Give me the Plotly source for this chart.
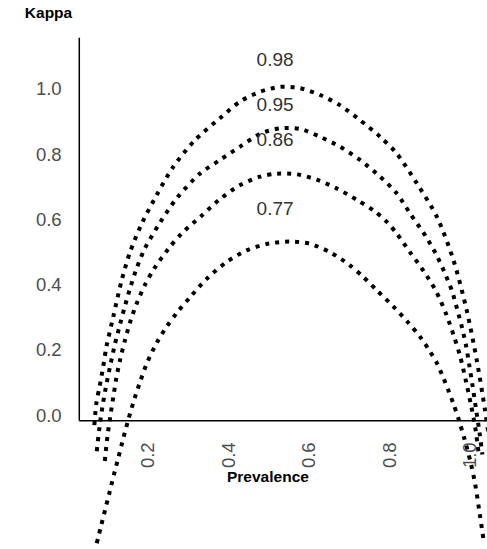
import plotly.graph_objects as go

# ---- data ----
prev_098 = [0.066, 0.071, 0.079, 0.088, 0.096, 0.113, 0.134, 0.155, 0.184, 0.221, 0.262, 0.316,
            0.378, 0.428, 0.478, 0.527, 0.577, 0.627, 0.676, 0.726, 0.776, 0.817, 0.867, 0.917,
            0.958, 0.991, 1.016, 1.036, 1.050]
kappa_098 = [-0.030, 0.037, 0.088, 0.149, 0.210, 0.302, 0.414, 0.501, 0.588, 0.675, 0.761, 0.843,
             0.910, 0.961, 0.991, 1.006, 1.002, 0.981, 0.950, 0.904, 0.853, 0.802, 0.711, 0.608,
             0.476, 0.322, 0.169, 0.020, -0.100]

prev_095 = [0.072, 0.080, 0.0875, 0.096, 0.106, 0.116, 0.128, 0.141, 0.155, 0.171, 0.191, 0.229,
            0.271, 0.329, 0.378, 0.428, 0.478, 0.527, 0.577, 0.627, 0.676, 0.726, 0.776, 0.817,
            0.850, 0.890, 0.916, 0.937, 0.955, 0.968, 0.980, 0.990, 0.998, 1.006, 1.014, 1.022, 1.030]
kappa_095 = [-0.110, -0.025, 0.037, 0.095, 0.155, 0.212, 0.270, 0.330, 0.390, 0.450, 0.510, 0.590,
             0.665, 0.741, 0.782, 0.823, 0.862, 0.879, 0.877, 0.853, 0.823, 0.782, 0.731, 0.680,
             0.619, 0.547, 0.491, 0.435, 0.379, 0.322, 0.266, 0.210, 0.149, 0.088, 0.021, -0.045, -0.120]

prev_086 = [0.092, 0.0985, 0.106, 0.113, 0.120, 0.130, 0.142, 0.156, 0.172, 0.192, 0.215, 0.250,
            0.283, 0.333, 0.378, 0.428, 0.478, 0.520, 0.569, 0.618, 0.668, 0.718, 0.759, 0.792,
            0.817, 0.850, 0.885, 0.915, 0.940, 0.960, 0.975, 0.990, 1.002, 1.012, 1.020]
kappa_086 = [-0.140, -0.065, 0.000, 0.055, 0.110, 0.170, 0.230, 0.290, 0.345, 0.400, 0.450, 0.510,
             0.557, 0.612, 0.662, 0.705, 0.731, 0.740, 0.738, 0.722, 0.695, 0.660, 0.628, 0.593,
             0.557, 0.500, 0.440, 0.380, 0.310, 0.240, 0.180, 0.100, 0.030, -0.035, -0.110]

prev_077 = [0.072, 0.082, 0.093, 0.104, 0.115, 0.126, 0.138, 0.150, 0.163, 0.179, 0.196, 0.221,
            0.246, 0.271, 0.304, 0.345, 0.395, 0.444, 0.500, 0.552, 0.600, 0.651, 0.700, 0.734,
            0.770, 0.809, 0.845, 0.875, 0.900, 0.917, 0.933, 0.945, 0.958, 0.970, 0.985, 1.000,
            1.012, 1.022, 1.033]
kappa_077 = [-0.392, -0.342, -0.288, -0.235, -0.180, -0.128, -0.070, -0.015, 0.040, 0.100, 0.158, 0.222,
             0.272, 0.314, 0.362, 0.418, 0.470, 0.505, 0.526, 0.532, 0.526, 0.500, 0.460, 0.424,
             0.380, 0.333, 0.285, 0.241, 0.195, 0.160, 0.115, 0.078, 0.035, -0.008, -0.070, -0.140,
             -0.210, -0.290, -0.382]

curve_labels = ["0.98", "0.95", "0.86", "0.77"]
label_prev = [0.515, 0.515, 0.515, 0.515]
label_kappa = [1.083, 0.947, 0.838, 0.629]

x_ticks = [0.2, 0.4, 0.6, 0.8, 1.0]
x_ticktext = ["0.2", "0.4", "0.6", "0.8", "1.0"]
y_ticks = [0.0, 0.2, 0.4, 0.6, 0.8, 1.0]
y_ticktext = ["0.0", "0.2", "0.4", "0.6", "0.8", "1.0"]

# axis extents (visible axis lines)
axis_x0, axis_x1 = 0.0286, 1.0415
axis_y0, axis_y1 = -0.017, 1.156

FONT = "Liberation Sans, Arial, Helvetica, sans-serif"

fig = go.Figure()
for px, ky in [(prev_098, kappa_098), (prev_095, kappa_095), (prev_086, kappa_086), (prev_077, kappa_077)]:
    fig.add_trace(go.Scatter(
        x=px, y=ky, mode="lines",
        line=dict(color="black", width=4, dash="4px,6px", shape="spline", smoothing=0.8),
        hoverinfo="skip", showlegend=False,
    ))

fig.add_trace(go.Scatter(
    x=label_prev, y=label_kappa, mode="text", text=curve_labels,
    textposition="middle center",
    textfont=dict(family=FONT, size=19, color="#333333"),
    showlegend=False, hoverinfo="skip",
))

# axis lines
fig.add_shape(type="line", xref="x", yref="y", x0=axis_x0, x1=axis_x0, y0=axis_y0, y1=axis_y1,
              line=dict(color="black", width=1.5))
fig.add_shape(type="line", xref="x", yref="y", x0=axis_x0, x1=axis_x1, y0=axis_y0, y1=axis_y0,
              line=dict(color="black", width=1.5))

fig.update_layout(
    width=487, height=549,
    margin=dict(l=0, r=0, t=0, b=0),
    paper_bgcolor="white", plot_bgcolor="white",
    title=dict(text="<b>Kappa</b>", x=48.5 / 487, xanchor="center", y=1 - 12.3 / 549, yanchor="middle",
               font=dict(family=FONT, size=15.5, color="black")),
    xaxis=dict(range=[-0.1684, 1.0415], domain=[0, 1], anchor="free", position=(549 - 421) / 549,
               showgrid=False, zeroline=False, showline=False,
               tickmode="array", tickvals=x_ticks, ticktext=x_ticktext, tickangle=-90,
               ticks="outside", ticklen=13, tickcolor="rgba(0,0,0,0)",
               tickfont=dict(family=FONT, size=18.5, color="#4d4d4d"), automargin=False),
    yaxis=dict(range=[-0.4095, 1.272], domain=[0, 1], anchor="free", position=79.3 / 487,
               showgrid=False, zeroline=False, showline=False,
               tickmode="array", tickvals=y_ticks, ticktext=y_ticktext,
               ticks="outside", ticklen=14, tickcolor="rgba(0,0,0,0)",
               tickfont=dict(family=FONT, size=18.5, color="#4d4d4d"), automargin=False),
    annotations=[dict(text="<b>Prevalence</b>", xref="paper", yref="paper",
                      x=267.5 / 487, y=(549 - 476) / 549, xanchor="center", yanchor="middle",
                      showarrow=False, font=dict(family=FONT, size=15.5, color="black"))],
)

fig.write_html("out.html", config={"displayModeBar": False},
               post_script="document.body.style.margin='0';document.body.style.padding='0';")
